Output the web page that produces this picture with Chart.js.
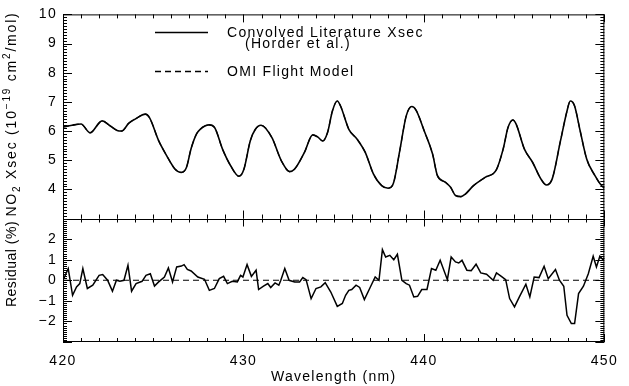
<!DOCTYPE html>
<html>
<head>
<meta charset="utf-8">
<title>NO2 Xsec - literature vs OMI flight model</title>
<script src="https://cdn.jsdelivr.net/npm/chart.js"></script>
<style>
    body {
        margin: 0;
        padding: 0;
        background: #fff;
    }
    canvas {
        display: block;
    }
</style>
</head>
<body>

<canvas id="xsecChart" width="629" height="386"></canvas>

<script>
    // Convolved literature cross section (Horder et al.), units 1e-19 cm2/mol
    var xsecWl = [420.0, 420.5, 421.0, 421.5, 422.17, 422.56, 423.0, 423.25, 423.65, 424.0, 424.57, 424.8,
        425.3, 425.75, 426.2, 426.56, 426.84, 427.1, 427.4, 427.6, 428.1, 428.4, 428.84, 429.29, 429.75,
        430.02, 430.38, 430.66, 430.97, 431.57, 432.1, 432.56, 432.84, 433.38, 433.84, 434.11, 434.39,
        434.66, 434.93, 435.2, 435.38, 435.84, 436.3, 436.75, 437.2, 437.66, 438.02, 438.3, 438.66,
        439.02, 439.33, 439.57, 440.02, 440.48, 440.75, 441.2, 441.48, 441.75, 442.05, 442.3, 442.75,
        443.39, 444.02, 444.39, 444.66, 444.93, 445.11, 445.57, 446.02, 446.48, 446.79, 447.11, 447.57,
        447.93, 448.11, 448.35, 448.66, 449.02, 449.48, 449.84, 450.0];
    var xsecVal = [6.14, 6.20, 6.24, 5.94, 6.35, 6.20, 6.02, 6.00, 6.27, 6.41, 6.58, 6.45,
        5.67, 5.15, 4.70, 4.58, 4.75, 5.40, 5.90, 6.06, 6.21, 6.12, 5.38, 4.81, 4.45,
        4.68, 5.67, 6.06, 6.20, 5.78, 4.98, 4.61, 4.70, 5.27, 5.87, 5.80, 5.66,
        5.95, 6.69, 7.03, 6.86, 6.06, 5.72, 5.27, 4.53, 4.13, 4.04, 4.19, 5.32,
        6.52, 6.84, 6.71, 6.00, 5.21, 4.47, 4.24, 4.07, 3.79, 3.75, 3.84, 4.13,
        4.41, 4.68, 5.38, 6.12, 6.38, 6.24, 5.38, 4.93, 4.36, 4.15, 4.36, 5.67,
        6.69, 7.03, 6.86, 6.00, 5.04, 4.47, 4.13, 4.05];

    // residual between the two, percent
    var resWl = [420.0, 420.29, 420.53, 420.75, 420.93, 421.1, 421.35, 421.65, 422.0, 422.2, 422.47, 422.74,
        422.96, 423.15, 423.38, 423.6, 423.8, 424.05, 424.38, 424.6, 424.84, 425.07, 425.3, 425.62,
        425.84, 426.07, 426.3, 426.56, 426.71, 426.89, 427.1, 427.47, 427.84, 428.11, 428.39, 428.66,
        428.9, 429.11, 429.38, 429.66, 429.84, 429.97, 430.2, 430.44, 430.7, 430.84, 431.11, 431.35,
        431.51, 431.75, 431.96, 432.07, 432.29, 432.53, 432.84, 433.11, 433.29, 433.47, 433.75, 434.02,
        434.29, 434.53, 434.84, 435.2, 435.48, 435.66, 435.84, 436.0, 436.24, 436.44, 436.7, 437.02,
        437.3, 437.51, 437.7, 437.88, 438.11, 438.33, 438.53, 438.78, 439.02, 439.2, 439.44, 439.65,
        439.88, 440.17, 440.42, 440.66, 440.9, 441.3, 441.51, 441.75, 441.93, 442.11, 442.38, 442.62,
        442.89, 443.15, 443.47, 443.84, 444.02, 444.29, 444.53, 444.75, 445.02, 445.29, 445.65, 445.87,
        446.11, 446.38, 446.66, 446.89, 447.29, 447.51, 447.75, 447.93, 448.17, 448.35, 448.57, 448.84,
        449.11, 449.38, 449.56, 449.75, 449.93, 450.0];
    var resVal = [0.0, 0.57, -0.73, -0.32, -0.16, 0.57, -0.40, -0.24, 0.24, 0.28, 0.0, -0.53,
        0.0, -0.05, 0.0, 0.73, -0.53, -0.16, -0.05, 0.24, 0.32, -0.28, -0.08, 0.16,
        0.60, -0.08, 0.65, 0.69, 0.76, 0.53, 0.45, 0.16, 0.05, -0.49, -0.40, 0.08,
        0.19, -0.16, -0.05, -0.08, 0.24, 0.16, 0.76, 0.19, 0.49, -0.45, -0.29, -0.16,
        -0.35, -0.13, -0.24, 0.0, 0.57, 0.0, -0.08, -0.08, 0.13, 0.03, -0.89, -0.40,
        -0.32, -0.12, -0.57, -1.27, -1.13, -0.73, -0.49, -0.45, -0.24, -0.35, -0.94, -0.35,
        0.16, 0.0, 1.49, 1.13, 1.21, 1.0, 1.26, 0.0, -0.16, -0.24, -0.81, -0.78,
        -0.45, -0.45, 0.57, 0.49, 0.97, 0.03, 1.13, 0.89, 0.84, 0.97, 0.49, 0.47,
        0.78, 0.36, 0.29, 0.0, 0.36, 0.19, 0.03, -0.89, -1.29, -0.81, -0.19, -0.81,
        0.16, 0.13, 0.68, 0.08, 0.52, 0.0, -0.29, -1.70, -2.10, -2.10, -0.65, -0.29,
        0.32, 1.17, 0.65, 1.17, 1.0, 1.1];

    // flight model reference line in the residual panel
    var zeroWl = [420, 450];
    var zeroVal = [0, 0];

    var legendLabels = ['Convolved Literature Xsec', '(Horder et al.)', 'OMI Flight Model'];

    var FONT = 'Liberation Sans, Arial, Helvetica, sans-serif';
    var SPACING = '1.3px';

    function toPoints(xs, ys) {
        return xs.map(function (x, i) { return { x: x, y: ys[i] }; });
    }

    function minusLabel(v) {
        return v < 0 ? '\u2212' + Math.abs(v) : String(v);
    }

    // rotated axis title made of pieces: s=0 normal, 1 subscript, -1 superscript
    function drawVerticalTitle(ctx, parts, baseX, centerY, spacing) {
        ctx.save();
        ctx.letterSpacing = spacing;
        ctx.translate(baseX, centerY);
        ctx.rotate(-Math.PI / 2);
        ctx.textBaseline = 'alphabetic';
        ctx.textAlign = 'left';
        var total = 0;
        parts.forEach(function (p) {
            ctx.font = (p.s ? '10px ' : '14px ') + FONT;
            p.w = ctx.measureText(p.t).width;
            total += p.w;
        });
        var pos = -total / 2;
        parts.forEach(function (p) {
            ctx.font = (p.s ? '10px ' : '14px ') + FONT;
            var dy = p.s === 1 ? 4 : (p.s === -1 ? -6 : 0);
            ctx.fillText(p.t, pos, dy);
            pos += p.w;
        });
        ctx.restore();
    }

    // frame, inward ticks, y titles and the legend
    var framePlugin = {
        id: 'framePlugin',
        beforeLayout: function (chart) { chart.ctx.letterSpacing = SPACING; },
        beforeDraw: function (chart) { chart.ctx.letterSpacing = SPACING; },
        afterDraw: function (chart) {
            var ctx = chart.ctx;
            var xs = chart.scales.x, yt = chart.scales.yTop, yr = chart.scales.yRes;
            var l = xs.left, r = xs.right;
            var mid = yt.bottom;
            ctx.save();
            ctx.strokeStyle = '#000';
            ctx.fillStyle = '#000';
            ctx.lineWidth = 1;

            ctx.beginPath();
            ctx.rect(l + 0.5, yt.top + 0.5, r - l - 1, yr.bottom - yt.top - 1);
            ctx.moveTo(l, Math.round(mid) + 0.5);
            ctx.lineTo(r, Math.round(mid) + 0.5);
            ctx.stroke();

            ctx.beginPath();
            // x ticks every 1 nm on every horizontal edge
            for (var w = 420; w <= 450; w++) {
                var px = Math.round(xs.getPixelForValue(w)) + 0.5;
                var len = (w % 10 === 0) ? 8 : 4;
                [[yt.top, 1], [mid, -1], [mid, 1], [yr.bottom, -1]].forEach(function (e) {
                    ctx.moveTo(px, e[0]);
                    ctx.lineTo(px, e[0] + e[1] * len);
                });
            }
            // y ticks, minor every 0.1
            function yTicks(scale, lo, hi) {
                for (var k = Math.round(lo * 10); k <= Math.round(hi * 10); k++) {
                    var py = Math.round(scale.getPixelForValue(k / 10)) + 0.5;
                    var len = (k % 10 === 0) ? 9 : 4;
                    ctx.moveTo(l, py); ctx.lineTo(l + len, py);
                    ctx.moveTo(r, py); ctx.lineTo(r - len, py);
                }
            }
            yTicks(yt, 3, 10);
            yTicks(yr, -3, 3);
            ctx.stroke();

            drawVerticalTitle(ctx, [
                { t: 'NO', s: 0 }, { t: '2', s: 1 }, { t: ' Xsec (10', s: 0 }, { t: '\u221219', s: -1 },
                { t: ' cm', s: 0 }, { t: '2', s: -1 }, { t: '/mol)', s: 0 }
            ], 16, 114, '1.8px');
            drawVerticalTitle(ctx, [{ t: 'Residual (%)', s: 0 }], 16, 264, '0.5px');

            // legend
            ctx.lineWidth = 1.5;
            ctx.beginPath();
            ctx.moveTo(155, 32.5); ctx.lineTo(208, 32.5);
            ctx.stroke();
            ctx.setLineDash([6, 4]);
            ctx.beginPath();
            ctx.moveTo(155, 71.5); ctx.lineTo(208, 71.5);
            ctx.stroke();
            ctx.setLineDash([]);
            ctx.letterSpacing = SPACING;
            ctx.font = '14px ' + FONT;
            ctx.textBaseline = 'middle';
            ctx.textAlign = 'left';
            ctx.fillText(legendLabels[0], 227, 33);
            ctx.fillText(legendLabels[1], 245, 44);
            ctx.fillText(legendLabels[2], 227, 72);
            ctx.restore();
        }
    };

    var tickFont = { family: FONT, size: 14 };

    new Chart(document.getElementById('xsecChart'), {
        type: 'line',
        data: {
            datasets: [{
                label: legendLabels[0],
                data: toPoints(xsecWl, xsecVal),
                yAxisID: 'yTop',
                borderColor: '#000',
                borderWidth: 1.6,
                cubicInterpolationMode: 'monotone'
            }, {
                label: legendLabels[2],
                data: toPoints(xsecWl, xsecVal),
                yAxisID: 'yTop',
                borderColor: '#000',
                borderWidth: 1.2,
                borderDash: [6, 4],
                cubicInterpolationMode: 'monotone'
            }, {
                label: 'Residual',
                data: toPoints(resWl, resVal),
                yAxisID: 'yRes',
                borderColor: '#000',
                borderWidth: 1.5,
                tension: 0
            }, {
                label: 'Flight model',
                data: toPoints(zeroWl, zeroVal),
                yAxisID: 'yRes',
                borderColor: '#000',
                borderWidth: 1.2,
                borderDash: [6, 4],
                tension: 0
            }]
        },
        options: {
            responsive: false,
            animation: false,
            layout: { padding: { top: 13, right: 16, left: 0, bottom: 0 } },
            elements: { point: { radius: 0 } },
            plugins: {
                legend: { display: false },
                tooltip: { enabled: false }
            },
            scales: {
                x: {
                    type: 'linear',
                    position: 'bottom',
                    min: 420,
                    max: 450,
                    grid: { display: false, drawTicks: false },
                    border: { display: false },
                    ticks: { stepSize: 10, padding: 11, color: '#000', font: tickFont, autoSkip: false,
                        callback: function (v) { return String(v); } },
                    title: { display: true, text: 'Wavelength (nm)', color: '#000', font: tickFont,
                        padding: { top: 0, bottom: 0 } },
                    afterFit: function (s) { s.height = 44; }
                },
                // stacked axes go bottom-up: residual panel first
                yRes: {
                    type: 'linear',
                    position: 'left',
                    stack: 'panels',
                    stackWeight: 124,
                    min: -3,
                    max: 3,
                    grid: { display: false, drawTicks: false },
                    border: { display: false },
                    ticks: { stepSize: 1, padding: 6, color: '#000', font: tickFont, autoSkip: false,
                        callback: function (v) { return Math.abs(v) === 3 ? '' : minusLabel(v); } },
                    afterFit: function (s) { s.width = 63; }
                },
                yTop: {
                    type: 'linear',
                    position: 'left',
                    stack: 'panels',
                    stackWeight: 205,
                    min: 3,
                    max: 10,
                    grid: { display: false, drawTicks: false },
                    border: { display: false },
                    ticks: { stepSize: 1, padding: 6, color: '#000', font: tickFont, autoSkip: false,
                        callback: function (v) { return v === 3 ? '' : String(v); } },
                    afterFit: function (s) { s.width = 63; }
                }
            }
        },
        plugins: [framePlugin]
    });
</script>

</body>
</html>
